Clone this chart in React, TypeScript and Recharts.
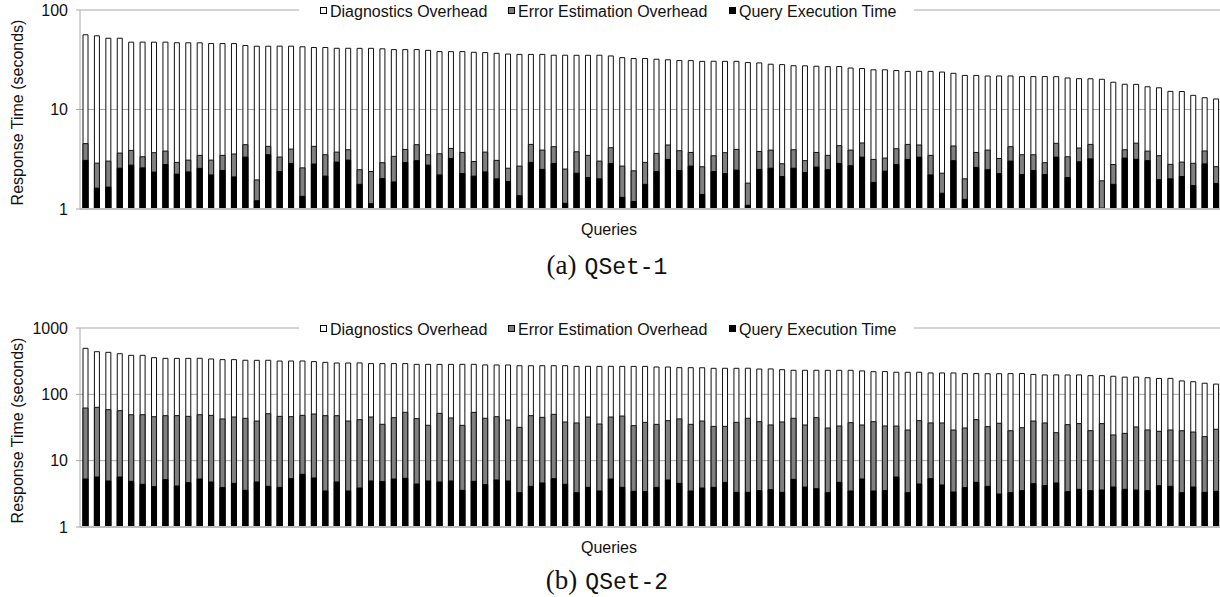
import { BarChart, Bar, XAxis, YAxis, CartesianGrid, Legend } from 'recharts';

// QSet-1 (seconds per query, sorted by total response time)
const qset1Exec = [
  3.08, 1.62, 1.66, 2.57, 2.76, 2.59, 2.35, 2.80, 2.24, 2.36,
  2.56, 2.20, 2.44, 2.10, 3.32, 1.21, 3.51, 2.38, 2.87, 1.34,
  2.83, 2.14, 2.96, 3.10, 1.77, 1.13, 2.02, 1.87, 2.93, 3.06,
  2.76, 2.20, 3.22, 2.27, 2.14, 2.36, 2.01, 1.89, 1.36, 2.94,
  2.50, 2.87, 1.14, 2.29, 2.07, 2.01, 2.87, 1.31, 1.19, 1.77,
  2.38, 3.15, 2.44, 2.70, 1.40, 2.38, 2.27, 2.46, 1.09, 2.50,
  2.57, 2.12, 2.57, 2.33, 2.64, 2.48, 2.87, 2.72, 3.32, 1.85,
  2.40, 2.80, 3.15, 3.32, 2.20, 1.44, 3.06, 1.25, 2.62, 2.48,
  2.27, 3.03, 2.22, 2.44, 2.22, 3.32, 2.07, 2.98, 3.19, 1.02,
  1.77, 3.25, 3.16, 3.06, 1.97, 2.01, 2.12, 1.72, 2.84, 1.81,
];
const qset1Error = [
  1.46, 1.27, 1.37, 1.08, 1.12, 0.76, 1.33, 1.02, 0.70, 0.74,
  0.90, 0.90, 1.02, 1.47, 1.11, 0.75, 0.75, 0.95, 1.13, 1.25,
  1.43, 1.37, 0.77, 0.84, 0.71, 1.25, 0.90, 1.51, 1.04, 1.37,
  0.75, 1.39, 0.84, 1.43, 0.86, 1.37, 1.07, 0.68, 1.34, 1.52,
  1.41, 1.36, 1.38, 1.47, 1.39, 1.02, 1.26, 1.39, 1.23, 1.17,
  1.24, 1.25, 1.41, 1.00, 1.26, 1.05, 1.41, 1.51, 0.73, 1.29,
  1.34, 0.73, 1.37, 0.73, 1.06, 0.98, 1.46, 1.19, 1.29, 1.30,
  0.85, 1.23, 1.31, 1.08, 1.26, 0.85, 1.24, 0.76, 1.08, 1.43,
  0.95, 1.20, 1.29, 1.07, 0.70, 1.25, 1.28, 1.12, 1.27, 0.90,
  1.03, 0.69, 1.43, 0.76, 1.46, 0.80, 0.84, 1.16, 0.99, 0.85,
];
const qset1Diag = [
  51.8, 52.1, 49.0, 48.4, 43.6, 44.2, 43.8, 43.7, 43.9, 43.7,
  43.3, 42.9, 42.5, 42.4, 39.5, 41.3, 39.0, 40.0, 39.3, 40.1,
  37.7, 38.5, 37.5, 37.3, 38.7, 38.8, 37.8, 36.6, 36.0, 35.6,
  35.8, 34.6, 34.1, 34.5, 34.6, 33.6, 33.6, 33.5, 33.1, 31.3,
  31.9, 30.9, 32.6, 31.3, 31.6, 32.1, 30.4, 30.5, 30.1, 29.6,
  28.4, 27.2, 27.2, 27.3, 27.8, 27.1, 26.8, 26.5, 27.8, 25.6,
  24.6, 25.4, 23.6, 24.4, 23.5, 23.5, 22.7, 22.2, 21.2, 21.9,
  21.8, 20.6, 19.7, 19.8, 20.7, 21.5, 18.8, 20.0, 18.3, 17.8,
  18.5, 17.5, 17.9, 17.9, 18.5, 16.8, 17.4, 16.3, 15.9, 18.2,
  16.0, 14.0, 13.3, 13.1, 13.1, 12.4, 12.2, 11.0, 9.3, 10.1,
];

// QSet-2
const qset2Exec = [
  5.29, 5.67, 4.94, 5.67, 4.88, 4.40, 4.06, 5.17, 4.15, 4.66,
  5.29, 4.77, 3.92, 4.55, 3.57, 4.77, 4.10, 3.96, 5.35, 6.22,
  5.48, 3.49, 4.77, 3.49, 3.87, 4.94, 4.83, 5.29, 5.42, 4.45,
  4.94, 4.77, 4.94, 3.57, 4.88, 4.35, 5.11, 4.94, 3.29, 4.10,
  4.61, 5.35, 4.40, 3.29, 3.96, 3.49, 5.29, 3.96, 3.45, 3.41,
  3.96, 5.11, 4.55, 3.49, 3.87, 3.96, 4.71, 3.33, 3.33, 3.53,
  3.65, 3.33, 5.23, 4.00, 3.78, 3.29, 4.71, 3.49, 5.29, 3.49,
  3.53, 5.67, 3.29, 4.45, 5.35, 4.30, 3.37, 3.92, 4.71, 4.10,
  3.14, 3.29, 3.53, 4.50, 4.20, 4.61, 3.41, 3.70, 3.53, 3.61,
  4.01, 3.70, 3.61, 3.53, 4.20, 4.10, 3.29, 4.01, 3.33, 3.45,
];
const qset2Error = [
  56.9, 58.0, 53.8, 51.0, 44.4, 44.9, 41.9, 42.5, 43.6, 41.9,
  44.0, 43.4, 38.6, 41.0, 39.9, 34.8, 47.0, 42.6, 40.7, 42.0,
  45.0, 44.2, 42.9, 36.1, 37.6, 40.6, 30.5, 39.2, 48.1, 38.6,
  29.2, 46.9, 39.1, 30.5, 48.6, 39.2, 40.9, 36.1, 28.5, 43.6,
  40.4, 44.6, 33.9, 33.7, 41.5, 32.2, 40.2, 43.1, 30.3, 34.4,
  31.3, 35.0, 38.0, 31.8, 35.7, 28.9, 28.2, 34.5, 40.2, 35.2,
  30.9, 35.0, 38.3, 30.5, 40.7, 27.8, 28.6, 33.9, 29.2, 35.2,
  29.8, 27.6, 25.7, 35.7, 31.7, 32.7, 25.6, 27.2, 36.8, 28.5,
  33.5, 25.0, 27.9, 35.1, 32.8, 21.8, 31.5, 32.5, 24.8, 32.6,
  20.4, 22.1, 28.6, 25.5, 23.5, 24.9, 25.0, 23.0, 19.7, 26.3,
];
const qset2Diag = [
  432, 376, 371, 353, 338, 338, 311, 301, 301, 302,
  300, 293, 291, 288, 283, 286, 275, 271, 272, 270,
  261, 256, 249, 257, 256, 245, 255, 246, 237, 240,
  249, 231, 239, 249, 230, 234, 231, 236, 238, 222,
  225, 220, 232, 227, 219, 228, 219, 217, 230, 226,
  223, 218, 210, 217, 212, 214, 214, 209, 204, 202,
  207, 197, 187, 196, 186, 199, 197, 193, 191, 181,
  187, 182, 186, 175, 173, 173, 181, 174, 164, 172,
  168, 177, 174, 160, 159, 170, 161, 160, 163, 155,
  163, 156, 150, 149, 146, 145, 131, 128, 124, 113,
];

const FONT = '"Liberation Sans", Arial, Helvetica, sans-serif';
const GRID = '#a8a8a8';
const GRAY = '#808080';

function buildRows(exec: number[], err: number[], diag: number[]) {
  return exec.map((e, i) => ({
    q: i + 1,
    low: e,
    mid: e + err[i],
    top: e + err[i] + diag[i],
  }));
}

const rows1 = buildRows(qset1Exec, qset1Error, qset1Diag);
const rows2 = buildRows(qset2Exec, qset2Error, qset2Diag);

const legendItems = [
  { name: 'Diagnostics Overhead', fill: '#fff', left: 21 },
  { name: 'Error Estimation Overhead', fill: GRAY, left: 209 },
  { name: 'Query Execution Time', fill: '#000', left: 430 },
];

function LegendBox() {
  return (
    <div style={{ position: 'relative', width: 615, height: 22, background: '#fff', fontFamily: FONT, fontSize: 16, color: '#111' }}>
      {legendItems.map((it) => (
        <div key={it.name} style={{ position: 'absolute', left: it.left, top: 2, display: 'flex', alignItems: 'center', whiteSpace: 'nowrap', lineHeight: '18px' }}>
          <span style={{ display: 'inline-block', width: 5, height: 5, border: '1px solid #000', background: it.fill, marginRight: 3, marginTop: -3 }} />
          <span>{it.name}</span>
        </div>
      ))}
    </div>
  );
}

interface PanelProps {
  rows: { q: number; low: number; mid: number; top: number }[];
  domain: [number, number];
  ticks: number[];
  top: number;
  plotTop: number;
  yLabelShift: number;
}

function QueryPanel({ rows, domain, ticks, top, plotTop, yLabelShift }: PanelProps) {
  const plotH = 199;
  const chartH = plotTop + plotH + 34;
  return (
    <div style={{ position: 'absolute', left: 0, top }}>
      <BarChart
        width={1224}
        height={chartH}
        data={rows}
        margin={{ top: plotTop, right: 2, bottom: 4, left: 0 }}
      >
        <CartesianGrid xAxisId="diag" vertical={false} stroke={GRID} />
        <XAxis
          xAxisId="diag"
          dataKey="q"
          tick={false}
          tickLine={false}
          axisLine={{ stroke: '#bdbdbd', strokeWidth: 2 }}
          height={30}
          label={(props: any) => {
            const vb = props.viewBox;
            return (
              <text x={609} y={vb.y + 20} textAnchor="middle" dominantBaseline="central" fontFamily={FONT} fontSize={16} fill="#111">
                Queries
              </text>
            );
          }}
        />
        <XAxis xAxisId="err" dataKey="q" hide />
        <XAxis xAxisId="exec" dataKey="q" hide />
        <YAxis
          scale="log"
          domain={domain}
          ticks={ticks}
          allowDataOverflow
          width={80}
          tickSize={4}
          tickMargin={8}
          tick={{ fill: '#111', fontSize: 16, fontFamily: FONT }}
          axisLine={{ stroke: GRID }}
          tickLine={{ stroke: GRID }}
          label={(props: any) => {
            const vb = props.viewBox;
            const cy = vb.y + vb.height / 2 + yLabelShift;
            return (
              <text x={17} y={cy} transform={`rotate(-90, 17, ${cy})`} textAnchor="middle" dominantBaseline="central" fontFamily={FONT} fontSize={16} fill="#111">
                Response Time (seconds)
              </text>
            );
          }}
        />
        <Legend
          layout="horizontal"
          verticalAlign="middle"
          align="center"
          wrapperStyle={{ left: 299, top: plotTop - 9, width: 615, height: 22 }}
          content={() => <LegendBox />}
        />
        <Bar xAxisId="diag" dataKey="top" name="Diagnostics Overhead" fill="#fff" stroke="#111" strokeWidth={1} barSize={5} isAnimationActive={false} />
        <Bar xAxisId="err" dataKey="mid" name="Error Estimation Overhead" fill={GRAY} stroke="#111" strokeWidth={1} barSize={5} isAnimationActive={false} />
        <Bar xAxisId="exec" dataKey="low" name="Query Execution Time" fill="#000" stroke="#000" strokeWidth={1} barSize={5} isAnimationActive={false} />
      </BarChart>
    </div>
  );
}

function Caption({ tag, name, y }: { tag: string; name: string; y: number }) {
  return (
    <div style={{ position: 'absolute', left: 0, width: 1214, top: y - 16, textAlign: 'center', lineHeight: '32px', color: '#111', whiteSpace: 'nowrap' }}>
      <span style={{ fontFamily: '"Liberation Serif", "DejaVu Serif", serif', fontSize: 27, marginRight: 8 }}>({tag})</span>
      <span style={{ fontFamily: '"Liberation Mono", "DejaVu Sans Mono", monospace', fontSize: 23 }}>{name}</span>
    </div>
  );
}

export default function App() {
  return (
    <div style={{ position: 'absolute', left: 0, top: 0, width: 1220, height: 597, overflow: 'hidden', background: '#fff' }}>
      <QueryPanel rows={rows1} domain={[1, 100]} ticks={[1, 10, 100]} top={0} plotTop={10} yLabelShift={3} />
      <Caption tag="a" name="QSet-1" y={265} />
      <QueryPanel rows={rows2} domain={[1, 1000]} ticks={[1, 10, 100, 1000]} top={290} plotTop={38} yLabelShift={3} />
      <Caption tag="b" name="QSet-2" y={580} />
    </div>
  );
}
